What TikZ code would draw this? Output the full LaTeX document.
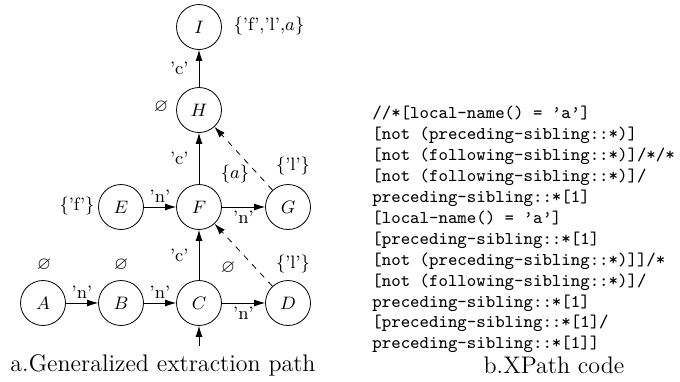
\documentclass[tikz,border=0pt]{standalone}
\usepackage{amssymb}
\usetikzlibrary{arrows.meta}
\tikzset{vert/.style={draw,circle,minimum size=22.5pt,inner sep=0pt},
  ann/.style={inner sep=1pt},
  elab/.style={inner sep=2pt},
  >={Latex[length=5.5pt,width=3.5pt]}}

\begin{document}
\begin{tikzpicture}[x=.5pt,y=-.5pt,thin,every node/.append style={font=\small}]
\useasboundingbox(0,0)rectangle(680,381);
% path nodes
\node[vert](I)at(199,27){$I$};\node[vert](H)at(199,110){$H$};
\node[vert](E)at(121,207){$E$};\node[vert](F)at(199,207){$F$};\node[vert](G)at(288,207){$G$};
\node[vert](A)at(43,303){$A$};\node[vert](B)at(121,303){$B$};\node[vert](C)at(199,303){$C$};\node[vert](D)at(288,303){$D$};
\coordinate(in)at(199,346);
% sets
\node[ann](sI)at(269,26){$\{$'f','l',$a\}$};\node[ann](sH)at(161,107){$\varnothing$};
\node[ann](sF)at(235,174){$\{a\}$};\node[ann](sG)at(293,166){$\{$'l'$\}$};\node[ann](sE)at(77,206){$\{$'f'$\}$};
\node[ann](sA)at(44,265){$\varnothing$};\node[ann](sB)at(121,265){$\varnothing$};\node[ann](sC)at(228,268){$\varnothing$};\node[ann](sD)at(293,264){$\{$'l'$\}$};
% edges
\draw[->](A)--node[elab,above]{'n'}(B);\draw[->](B)--node[elab,above]{'n'}(C);\draw[->](C)--node[elab,below]{'n'}(D);
\draw[->](E)--node[elab,above]{'n'}(F);\draw[->](F)--node[elab,below]{'n'}(G);
\draw[->](C)--node[elab,left=3pt]{'c'}(F);\draw[->](F)--node[elab,left=3pt]{'c'}(H);\draw[->](H)--node[elab,left=3pt]{'c'}(I);
\draw[->,dashed](D)--(F);\draw[->,dashed](G)--(H);
\draw[->](in)--(C);
% code
\node[anchor=north west,align=left,inner sep=0pt,font=\fontsize{9}{10.45}\selectfont\ttfamily](code)at(372,106){%
//*[local-name() = \textquoteright a\textquoteright]\\
{}[not (preceding-sibling::*)]\\
{}[not (following-sibling::*)]/*/*\\
{}[not (following-sibling::*)]/\\
preceding-sibling::*[1]\\
{}[local-name() = \textquoteright a\textquoteright]\\
{}[preceding-sibling::*[1]\\
{}[not (preceding-sibling::*)]]/*\\
{}[not (following-sibling::*)]/\\
preceding-sibling::*[1]\\
{}[preceding-sibling::*[1]/\\
preceding-sibling::*[1]]};
% captions
\node[font=\large](capa)at(163,365){a.Generalized extraction path};
\node[font=\large](capb)at(554,365){b.XPath code};
\end{tikzpicture}
\end{document}
